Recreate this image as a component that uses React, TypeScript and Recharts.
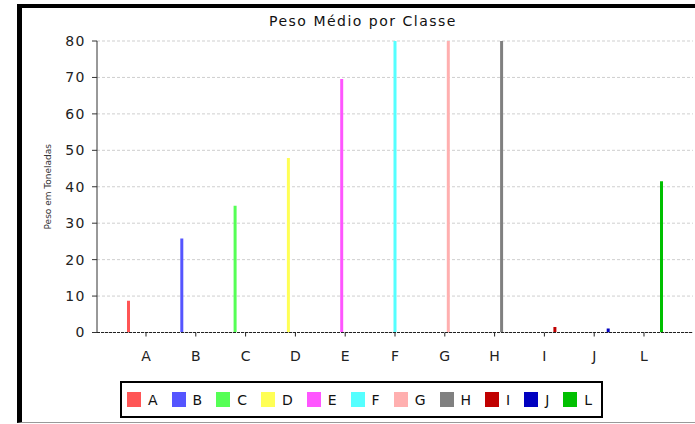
import React from 'react';
import {
  BarChart,
  Bar,
  XAxis,
  YAxis,
  CartesianGrid,
  Legend,
} from 'recharts';

// classes (series) and their average weight in tonnes
const classes = ['A', 'B', 'C', 'D', 'E', 'F', 'G', 'H', 'I', 'J', 'L'];
const pesos = [8.7, 25.8, 34.8, 47.9, 69.6, 88, 86, 84, 1.5, 1.1, 41.5];
const colors = [
  '#FF5555', '#5555FF', '#55FF55', '#FFFF55', '#FF55FF', '#55FFFF',
  '#FFAFAF', '#808080', '#C00000', '#0000C0', '#00C000',
];
const yTicks = [0, 10, 20, 30, 40, 50, 60, 70, 80];
const labelTicks = [0, 1, 2, 3, 4, 5, 6, 7, 8, 9, 10];

const FONT = '"DejaVu Sans", Verdana, sans-serif';

// one row, one key per class
const row: Record<string, number | string> = { name: '' };
classes.forEach((c, i) => {
  row[c] = pesos[i];
});
const data = [row];

const renderLegend = () => (
  <div
    style={{
      display: 'inline-flex',
      alignItems: 'center',
      height: 37,
      boxSizing: 'border-box',
      border: '2px solid #000',
      paddingLeft: 5,
      paddingRight: 9,
      background: '#fff',
      fontFamily: FONT,
    }}
  >
    {classes.map((c, i) => (
      <span
        key={c}
        style={{
          display: 'flex',
          alignItems: 'center',
          marginRight: i < classes.length - 1 ? 14 : 0,
        }}
      >
        <span
          style={{ width: 14, height: 15, background: colors[i], marginRight: 7 }}
        />
        <span style={{ fontSize: 14, color: '#111' }}>{c}</span>
      </span>
    ))}
  </div>
);

const App: React.FC = () => {
  return (
    <div
      style={{
        position: 'absolute',
        left: 0,
        top: 0,
        width: 695,
        height: 424,
        background: '#fff',
        overflow: 'hidden',
      }}
    >
      {/* moldura */}
      <div
        style={{
          position: 'absolute',
          left: 17,
          top: 4,
          width: 700,
          height: 419,
          boxSizing: 'border-box',
          borderLeft: '5px solid #000',
          borderTop: '4px solid #000',
          borderBottom: '1px solid #999',
        }}
      />
      <div style={{ position: 'absolute', left: 0, top: 0 }}>
        <BarChart
          width={695}
          height={424}
          data={data}
          margin={{ top: 41, right: 2, left: 20, bottom: 6 }}
          barSize={3}
          barGap={50.3}
          style={{ fontFamily: FONT }}
        >
          <text
            x={363}
            y={26}
            textAnchor="middle"
            fontSize={14}
            fill="#111"
            style={{ letterSpacing: 1.5, fontFamily: FONT }}
          >
            Peso Médio por Classe
          </text>
          <CartesianGrid
            vertical={false}
            stroke="#cfcfcf"
            strokeDasharray="3 2"
          />
          <XAxis dataKey="name" hide height={0} />
          <XAxis
            xAxisId="labels"
            type="number"
            dataKey="idx"
            domain={[-0.984, 10.984]}
            allowDataOverflow
            ticks={labelTicks}
            interval={0}
            tickFormatter={(v: number) => classes[v] ?? ''}
            height={48.5}
            tickSize={4}
            tickMargin={15}
            axisLine={{ stroke: '#222', strokeDasharray: '3 1' }}
            tickLine={{ stroke: '#222' }}
            tick={{ fontSize: 14, fill: '#222', fontFamily: FONT }}
          />
          <YAxis
            domain={[0, 80]}
            ticks={yTicks}
            allowDataOverflow
            width={77}
            tickSize={5}
            tickMargin={6}
            axisLine={{ stroke: '#333' }}
            tickLine={{ stroke: '#333' }}
            tick={{ fontSize: 14, fill: '#222', fontFamily: FONT, letterSpacing: 1.5 }}
            label={{
              value: 'Peso em Toneladas',
              angle: -90,
              position: 'insideLeft',
              offset: 28,
              style: { textAnchor: 'middle', fontSize: 9, fill: '#333', fontFamily: FONT },
            }}
          />
          <Legend
            verticalAlign="bottom"
            content={renderLegend}
            wrapperStyle={{ left: 120, width: 488, height: 37, bottom: 6 }}
          />
          {classes.map((c, i) => (
            <Bar key={c} dataKey={c} fill={colors[i]} isAnimationActive={false} />
          ))}
        </BarChart>
      </div>
    </div>
  );
};

export default App;
